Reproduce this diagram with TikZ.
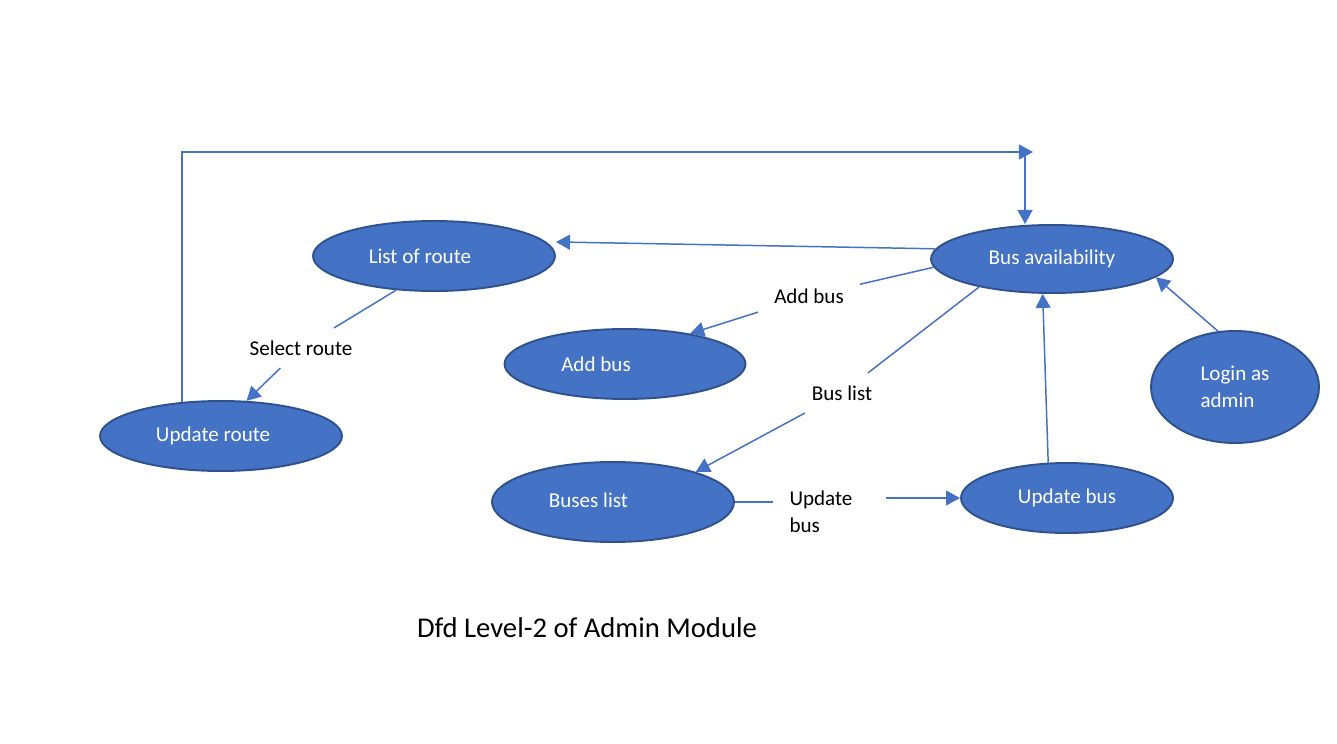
\documentclass[tikz,border=0pt]{standalone}
\usepackage{fontspec}
\setmainfont{Carlito}
\usetikzlibrary{arrows.meta,positioning,calc,shapes.geometric}
\definecolor{dfdBlue}{RGB}{68,114,196}
\definecolor{dfdEdge}{RGB}{47,82,143}

\begin{document}
\begin{tikzpicture}[x=0.02cm,y=-0.02cm,
  proc/.style={ellipse,draw=dfdEdge,line width=1.1pt,fill=dfdBlue,text=white,inner sep=0pt,font=\fontsize{12}{15.5}\selectfont},
  flow/.style={draw=dfdBlue,line width=0.85pt},
  arr/.style={-{Triangle[length=8pt,width=8.5pt]}},
  lbl/.style={inner xsep=9pt,inner ysep=7pt,font=\fontsize{12}{15.5}\selectfont}]
  \useasboundingbox (0,0) rectangle (1337,743);

  % processes (text sits a little left of centre, as drawn)
  \node[proc,minimum width=4.84cm,minimum height=1.4cm] (lr) at (434,256) {List of route\hspace*{16pt}};
  \node[proc,minimum width=4.84cm,minimum height=1.36cm] (ba) at (1052,259) {Bus availability};
  \node[proc,minimum width=4.82cm,minimum height=1.4cm] (ab) at (625,364) {Add bus\hspace*{33pt}};
  \node[proc,minimum width=4.84cm,minimum height=1.4cm] (ur) at (221,436) {Update route\hspace*{9pt}};
  \node[proc,minimum width=3.36cm,minimum height=2.24cm,align=left] (la) at (1235,387) {Login as\\admin};
  \node[proc,minimum width=4.84cm,minimum height=1.6cm] (bl) at (613,502) {\raisebox{2pt}{Buses list}\hspace*{28pt}};
  \node[proc,minimum width=4.24cm,minimum height=1.4cm] (ub) at (1067,498) {Update bus};

  % flow labels
  \node[lbl] (selr) at (301,348) {Select route};
  \node[lbl] (addl) at (809,296) {Add bus};
  \node[lbl] (busl) at (842,393) {Bus list};
  \node[lbl,align=left] (updl) at (821,512) {Update\\bus};

  \coordinate (topR) at (1033,152);
  \coordinate (topD) at (1025,152);

  % flows
  \draw[flow,arr] (ur.139) |- (topR);
  \draw[flow,arr] (topD) -- (topD |- ba.north);
  \draw[flow,arr] (ba.175) -- ([yshift=8pt]lr.east);
  \draw[flow] (ba.184) -- (addl);
  \draw[flow,arr] (addl) -- (ab.25);
  \draw[flow] (ba.201) -- (busl);
  \draw[flow,arr] (busl) -- (bl.20);
  \draw[flow] (bl.east) -- (bl.east -| updl.west);
  \draw[flow,arr,shorten <=10pt] (updl.east |- ub.west) -- (ub.west);
  \draw[flow,arr] (ub.118) -- (ba.255);
  \draw[flow,arr] (la.107) -- (ba.350);
  \draw[flow] (lr.222) -- (selr);
  \draw[flow,arr] (selr) -- (ur.54);

  \node[font=\fontsize{16.3}{19}\selectfont] (title) at (587,628) {Dfd Level-2 of Admin Module};
\end{tikzpicture}
\end{document}
